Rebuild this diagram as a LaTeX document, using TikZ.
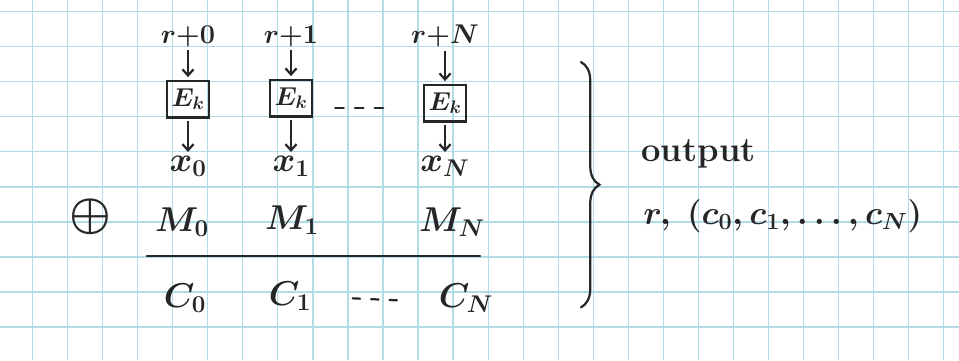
\RequirePackage{fix-cm}
\documentclass[tikz,border=0pt]{standalone}
\usepackage{amsmath,amssymb}
\usepackage{tikz}
\usetikzlibrary{arrows.meta,calc,decorations.pathreplacing}
\usepackage{xcolor}
\definecolor{gridblue}{RGB}{176,220,230}
\definecolor{pencil}{RGB}{38,38,38}

\tikzset{
  gridline/.style={gridblue,line width=1pt},
  hand/.style={text=pencil,inner sep=1pt,font=\fontsize{28}{32}\selectfont\bfseries\boldmath},
  handsmall/.style={text=pencil,inner sep=1pt,font=\fontsize{22}{26}\selectfont\boldmath},
  encbox/.style={draw=pencil,line width=1.8pt,minimum width=1.2cm,minimum height=1.05cm,
    inner sep=0pt,text=pencil,font=\fontsize{21}{24}\selectfont\boldmath},
  feed/.style={pencil,line width=1.8pt,->,shorten >=2pt,shorten <=2pt},
  ink/.style={pencil,line width=1.8pt,line cap=round}
}

\begin{document}
\begin{tikzpicture}[x=0.02853cm,y=-0.02857cm,>={Straight Barb[length=5pt,width=9pt]}]
  \useasboundingbox (0,0) rectangle (959,360);
  \fill[white] (0,0) rectangle (959,360);
  % squared paper
  \foreach \i in {0,...,26}
    \draw[gridline] ({32.5+35.05*\i},0) -- ({32.5+35.05*\i},360);
  \foreach \j in {0,...,9}
    \draw[gridline] (0,{11.7+35*\j}) -- (959,{11.7+35*\j});

  % one encryption per counter value
  \foreach \k/\cx/\by/\lab in {0/188/99/r{+}0,1/291/98/r{+}1,N/445/103/r{+}N}
    {\node[encbox] (E\k) at (\cx,\by) {$E_k$};
     \node[handsmall] (r\k) at (\cx,36) {$\lab$};
     \node[hand] (x\k) at (\cx,166) {$x_{\k}$};
     \draw[feed] (r\k) -- (E\k);
     \draw[feed] (E\k) -- (x\k);}
  \draw[ink,dash pattern=on 7pt off 9pt] ($(E1.east)+(22,10)$) -- ($(EN.west)+(-38,5)$);

  % message and ciphertext
  \node[hand,font=\fontsize{38}{40}\selectfont\boldmath] (xor) at (90,217) {$\oplus$};
  \node[hand] (M0) at (182,222) {$M_0$};
  \node[hand] (M1) at (292,220) {$M_1$};
  \node[hand] (MN) at (452,222) {$M_N$};
  \coordinate (ruleL) at (147,256);
  \coordinate (ruleR) at (480,256);
  \draw[ink] (ruleL) -- (ruleR);
  \node[hand] (C0) at (185,298) {$C_0$};
  \node[hand] (C1) at (290,296) {$C_1$};
  \node[hand] (CN) at (466,298) {$C_N$};
  \draw[ink,dash pattern=on 6pt off 9pt] ($(C1.east)+(40,2)$) -- ($(CN.west)+(-40,2)$);

  % what is sent
  \coordinate (braceT) at (581,62);
  \coordinate (braceB) at (581,307);
  \draw[ink,decorate,decoration={brace,amplitude=15pt}] (braceT) -- (braceB);
  \node[hand,anchor=west] (out) at (640,154) {output};
  \node[hand,anchor=west,font=\fontsize{27}{30}\selectfont\boldmath] (res) at (642,216) {$r,\ (c_0,c_1,\dots,c_N)$};
\end{tikzpicture}
\end{document}
